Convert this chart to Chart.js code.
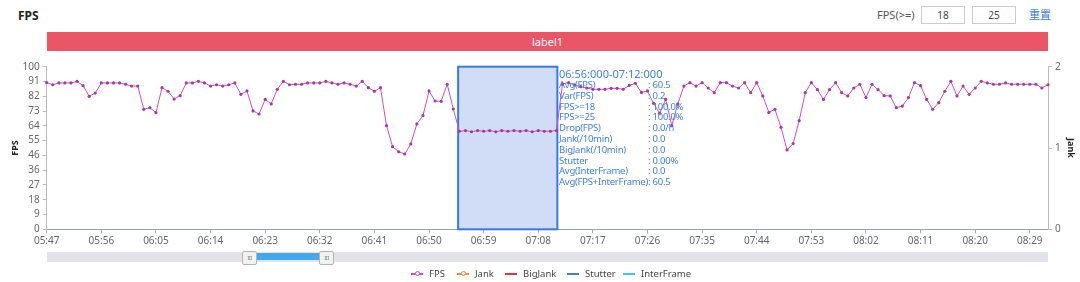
<!DOCTYPE html>
<html>
<head>
<meta charset="utf-8">
<script src="https://cdn.jsdelivr.net/npm/chart.js@4.4.1/dist/chart.umd.min.js"></script>
<style>
html,body{margin:0;padding:0;background:#fff;width:1080px;height:282px;overflow:hidden;font-family:"Noto Sans","Noto Sans CJK SC",sans-serif;}
#wrap{position:relative;width:1080px;height:282px;}
.abs{position:absolute;}
#title{left:18px;top:7px;font-size:12px;font-weight:bold;color:#222;}
#fpsLbl{left:877px;top:7px;font-size:11px;color:#555;}
.inp{top:6px;width:42px;height:16px;border:1px solid #ccc;font-size:10px;color:#444;text-align:center;line-height:16px;}
#reset{left:1029px;top:6px;font-size:11px;color:#3b7bd8;}
#bar{left:47px;top:32px;width:1001px;height:19px;background:#ea5568;color:#fff;font-size:11px;text-align:center;line-height:19px;}
#chart{left:0;top:56px;}
#info{left:559px;top:67px;color:#3f7ee8;font-size:9.5px;line-height:10.8px;white-space:nowrap;letter-spacing:-0.25px;}
#info .hd{font-size:11px;line-height:13px;letter-spacing:0;}
#info table{border-collapse:collapse;}
#info td{padding:0;line-height:10.8px;}
#track{left:47px;top:252px;width:1001px;height:10px;background:#e0e3e8;}
#sel{left:253px;top:253px;width:67px;height:7px;background:#42a8ef;}
.hdl{top:251px;width:13px;height:12px;background:#f2f2f2;border:1px solid #b5b5b5;border-radius:2px;font-size:6px;color:#888;text-align:center;line-height:12px;letter-spacing:-0.5px;}
#legend{left:0;top:267px;width:1080px;height:14px;}
.li{position:absolute;top:0;font-size:9.5px;color:#444;line-height:14px;white-space:nowrap;}
.sym{position:absolute;top:6px;width:12px;height:1.5px;}
.dot{position:absolute;top:-2px;left:3.5px;width:3px;height:3px;border-radius:50%;background:#fff;border:1px solid;}
</style>
</head>
<body>
<div id="wrap">
  <div id="title" class="abs">FPS</div>
  <div id="fpsLbl" class="abs">FPS(&gt;=)</div>
  <div class="abs inp" style="left:921px">18</div>
  <div class="abs inp" style="left:972px">25</div>
  <div id="reset" class="abs">重置</div>
  <div id="bar" class="abs">label1</div>
  <canvas id="chart" class="abs" width="1080" height="200"></canvas>
  <div id="info" class="abs"></div>
  <div id="track" class="abs"></div>
  <div id="sel" class="abs"></div>
  <div class="abs hdl" style="left:242px">III</div>
  <div class="abs hdl" style="left:319px">III</div>
  <div id="legend" class="abs"></div>
</div>
<script>
// FPS samples, one per minute starting 05:47
const startTime = '05:47';
const fpsValues = [
  90.2, 88.9, 90.0, 90.0, 90.0, 91.0, 88.3, 81.8, 83.8, 90.0,
  90.0, 90.0, 90.0, 89.2, 88.1, 88.1, 73.8, 74.8, 71.7, 87.1,
  84.9, 80.1, 82.2, 90.0, 90.0, 91.0, 90.0, 88.1, 88.9, 88.1,
  88.9, 90.0, 83.0, 85.1, 72.8, 70.9, 79.9, 77.1, 86.1, 91.0,
  88.9, 89.2, 89.2, 90.0, 90.0, 90.0, 91.0, 90.0, 89.2, 90.0,
  89.2, 88.1, 91.0, 87.1, 84.9, 87.1, 63.7, 50.8, 47.7, 46.3,
  52.5, 64.8, 69.9, 85.1, 78.9, 78.7, 89.2, 74.0, 60.3, 60.7,
  60.0, 60.7, 60.3, 60.7, 60.0, 60.7, 60.3, 60.7, 60.3, 60.7,
  60.0, 60.7, 60.3, 60.3, 60.7, 89.4, 90.2, 88.7, 87.7, 86.9,
  86.1, 86.1, 86.1, 86.7, 86.7, 86.1, 88.5, 89.8, 84.2, 85.1,
  77.5, 71.3, 79.9, 63.7, 77.1, 88.1, 90.2, 88.1, 90.2, 86.9,
  84.0, 90.2, 90.2, 88.1, 86.9, 90.2, 84.0, 90.2, 82.0, 71.9,
  73.8, 62.7, 48.8, 52.7, 66.8, 84.0, 90.2, 85.9, 79.9, 85.9,
  90.2, 84.0, 82.0, 86.9, 89.2, 81.0, 89.2, 85.9, 82.2, 82.0,
  74.8, 75.8, 81.0, 90.2, 88.3, 79.9, 73.8, 77.9, 84.9, 91.0,
  82.0, 88.1, 83.0, 86.9, 91.0, 90.0, 89.2, 89.2, 90.0, 89.2,
  89.2, 89.2, 89.2, 89.2, 86.9, 88.9
];
const jankValues = [];
const bigJankValues = [];
const stutterValues = [];
const interFrameValues = [];
const yTickLabels = [0, 9, 18, 27, 36, 46, 55, 64, 73, 82, 91, 100];
const y1TickLabels = [0, 1, 2];
const labelEvery = 9;

// selected range (in sample index units) and its summary
const selFrom = 67.8, selTo = 84.15;
const selTitle = '06:56:000-07:12:000';
const selStats = [
  ['Avg(FPS)', '60.5'], ['Var(FPS)', '0.2'], ['FPS>=18', '100.0%'], ['FPS>=25', '100.0%'],
  ['Drop(FPS)', '0.0/h'], ['Jank(/10min)', '0.0'], ['BigJank(/10min)', '0.0'],
  ['Stutter', '0.00%'], ['Avg(InterFrame)', '0.0'], ['Avg(FPS+InterFrame)', '60.5']
];

const series = [
  {name:'FPS', data:fpsValues, color:'#c84fcc', axis:'y', dot:true},
  {name:'Jank', data:jankValues, color:'#f0893c', axis:'y1', dot:true},
  {name:'BigJank', data:bigJankValues, color:'#d9363e', axis:'y1'},
  {name:'Stutter', data:stutterValues, color:'#3c7fd0', axis:'y1'},
  {name:'InterFrame', data:interFrameValues, color:'#3fc9d0', axis:'y1'}
];

function timeLabels(start, n){
  let [h, m] = start.split(':').map(Number);
  const out = [];
  for(let i=0;i<n;i++){
    const t = h*60 + m + i;
    out.push(String(Math.floor(t/60)%24).padStart(2,'0') + ':' + String(t%60).padStart(2,'0'));
  }
  return out;
}
const categories = timeLabels(startTime, fpsValues.length);

Chart.defaults.font.family = '"Noto Sans","Noto Sans CJK SC",sans-serif';

const selBox = {
  id:'selBox',
  beforeDatasetsDraw(chart){
    const x = chart.scales.x, a = chart.chartArea, ctx = chart.ctx;
    const x0 = x.getPixelForValue(selFrom), x1 = x.getPixelForValue(selTo);
    ctx.save();
    ctx.fillStyle = '#d1ddf6';
    ctx.fillRect(x0, a.top, x1-x0, a.bottom-a.top);
    ctx.strokeStyle = '#3a78e4';
    ctx.lineWidth = 2;
    ctx.strokeRect(x0, a.top, x1-x0, a.bottom-a.top);
    ctx.restore();
  }
};

new Chart(document.getElementById('chart'), {
  type:'line',
  data:{
    labels:categories,
    datasets:series.map(s=>({
      label:s.name, data:s.data, yAxisID:s.axis,
      borderColor:s.color, backgroundColor:s.color,
      borderWidth:1, pointRadius:s.name==='FPS'?1.6:0,
      pointBackgroundColor:'#a8399f', pointBorderWidth:0, tension:0
    }))
  },
  options:{
    responsive:false, animation:false, devicePixelRatio:1,
    layout:{padding:{top:10.7, bottom:0, left:0, right:0}},
    plugins:{legend:{display:false}, tooltip:{enabled:false}},
    scales:{
      x:{
        type:'category',
        afterBuildTicks(s){ s.ticks = s.ticks.filter(t=>t.value % labelEvery === 0); },
        afterFit(s){ s.height = 26.7; },
        ticks:{autoSkip:false, maxRotation:0, color:'#666', font:{size:10}, padding:2},
        grid:{drawOnChartArea:false, tickLength:4, color:'#aab'},
        border:{color:'#9aa3b5', dash:[3,3]}
      },
      y:{
        position:'left', min:0, max:100,
        afterBuildTicks(s){ s.ticks = yTickLabels.map((t,i)=>({value:i*100/(yTickLabels.length-1)})); },
        afterFit(s){ s.width = 46.7; },
        ticks:{autoSkip:false, callback:(v,i)=>yTickLabels[i], color:'#666', font:{size:10}, padding:3},
        grid:{drawOnChartArea:false, tickLength:4, color:'#bbb'},
        border:{color:'#bbb'},
        title:{display:true, text:'FPS', color:'#222', font:{size:9, weight:'bold'}, padding:{top:10, bottom:0}}
      },
      y1:{
        position:'right', min:0, max:2,
        afterBuildTicks(s){ s.ticks = y1TickLabels.map(v=>({value:v})); },
        afterFit(s){ s.width = 32; },
        ticks:{autoSkip:false, color:'#666', font:{size:10}, padding:3},
        grid:{drawOnChartArea:false, tickLength:4, color:'#bbb'},
        border:{color:'#bbb'},
        title:{display:true, text:'Jank', color:'#222', font:{size:9, weight:'bold'}, padding:{top:4, bottom:0}}
      }
    }
  },
  plugins:[selBox]
});

// selection summary
const info = document.getElementById('info');
info.innerHTML = '<div class="hd">' + selTitle + '</div><table>' +
  selStats.map(r=>'<tr><td>' + r[0] + '</td><td>: ' + r[1] + '</td></tr>').join('') + '</table>';

// legend
const legendPos = [411, 457, 505, 567, 623];
const legend = document.getElementById('legend');
series.forEach((s,i)=>{
  const el = document.createElement('div');
  el.className = 'li';
  el.style.left = legendPos[i] + 'px';
  el.innerHTML = '<span class="sym" style="background:' + s.color + '">' +
    (s.dot ? '<span class="dot" style="border-color:' + s.color + '"></span>' : '') +
    '</span><span style="margin-left:18px">' + s.name + '</span>';
  legend.appendChild(el);
});
</script>
</body>
</html>
